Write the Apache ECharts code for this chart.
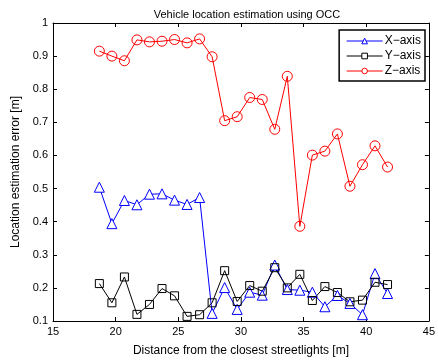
<!DOCTYPE html>
<html>
<head>
<meta charset="utf-8">
<script src="https://cdn.jsdelivr.net/npm/echarts@6/dist/echarts.min.js"></script>
<style>
  html, body { margin: 0; padding: 0; background: #fff; }
  #chart { width: 438px; height: 362px; }
</style>
</head>
<body>
<div id="chart"></div>
<script>
// distance from the closest streetlights [m]
const distances = [18.7, 19.7, 20.7, 21.7, 22.7, 23.7, 24.7, 25.7, 26.7, 27.7, 28.7, 29.7,
  30.7, 31.7, 32.7, 33.7, 34.7, 35.7, 36.7, 37.7, 38.7, 39.7, 40.7, 41.7]
const xAxisErr = [0.504, 0.394, 0.464, 0.451, 0.483, 0.484, 0.465, 0.452, 0.473, 0.123, 0.201, 0.135,
  0.187, 0.178, 0.269, 0.195, 0.193, 0.187, 0.143, 0.177, 0.153, 0.119, 0.243, 0.183]
const yAxisErr = [0.213, 0.155, 0.233, 0.12, 0.15, 0.198, 0.176, 0.114, 0.119, 0.155, 0.252, 0.159,
  0.207, 0.19, 0.261, 0.2, 0.241, 0.162, 0.204, 0.186, 0.158, 0.163, 0.217, 0.21]
const zAxisErr = [0.915, 0.9, 0.886, 0.949, 0.943, 0.945, 0.95, 0.94, 0.952, 0.898, 0.705, 0.717,
  0.775, 0.769, 0.679, 0.839, 0.386, 0.601, 0.613, 0.665, 0.507, 0.572, 0.629, 0.565]
const xTicks = [15, 20, 25, 30, 35, 40, 45]
const yTicks = [0.1, 0.2, 0.3, 0.4, 0.5, 0.6, 0.7, 0.8, 0.9, 1]

const pairs = (ys) => ys.map((v, i) => [distances[i], v])

const font = 'Liberation Sans, Arial, sans-serif'
const axisLine = { show: true, lineStyle: { color: '#000', width: 1 } }
const tick = { show: true, inside: true, length: 4, lineStyle: { color: '#000' } }
const label = { color: '#000', fontSize: 11, fontFamily: font }
const hollow = (c) => ({ color: '#fff', borderColor: c, borderWidth: 1 })

const chart = echarts.init(document.getElementById('chart'), null, { renderer: 'canvas' })
const option = {
  animation: false,
  backgroundColor: '#fff',
  title: {
    text: 'Vehicle location estimation using OCC',
    left: 242, top: 4, textAlign: 'center',
    textStyle: { fontSize: 11, fontWeight: 'normal', color: '#000', fontFamily: font },
  },
  legend: {
    right: 13, top: 30,
    orient: 'vertical',
    backgroundColor: '#fff',
    borderColor: '#000', borderWidth: 1.5, borderRadius: 0,
    padding: [5, 4, 4, 7],
    itemGap: 3,
    itemWidth: 36, itemHeight: 7,
    lineStyle: { width: 1 },
    textStyle: { fontSize: 12, color: '#000', fontFamily: font, padding: [0, 0, 0, -3] },
    data: [
      { name: 'X\u2212axis', itemStyle: hollow('#0000ff') },
      { name: 'Y\u2212axis', itemStyle: hollow('#000') },
      { name: 'Z\u2212axis', itemStyle: hollow('#ff0000') },
    ],
  },
  grid: { left: 53, right: 7, top: 23, bottom: 37 },
  xAxis: [
    {
      type: 'value', min: 15, max: 45, interval: 5,
      name: 'Distance from the closest streetlights [m]',
      nameLocation: 'middle', nameGap: 24,
      nameTextStyle: { fontSize: 12, color: '#000', fontFamily: font },
      axisLine, axisTick: tick, axisLabel: { ...label, margin: 5 },
      splitLine: { show: false },
    },
    {
      type: 'value', min: 15, max: 45, interval: 5, position: 'top',
      axisLine, axisTick: tick, axisLabel: { show: false }, splitLine: { show: false },
    },
  ],
  yAxis: [
    {
      type: 'value', min: 0.1, max: 1, interval: 0.1,
      name: 'Location estimation error [m]',
      nameLocation: 'middle', nameGap: 23,
      nameTextStyle: { fontSize: 12, color: '#000', fontFamily: font },
      axisLine, axisTick: tick,
      axisLabel: { ...label, margin: 5, formatter: (v) => String(+v.toFixed(1)) },
      splitLine: { show: false },
    },
    {
      type: 'value', min: 0.1, max: 1, interval: 0.1, position: 'right',
      axisLine, axisTick: tick, axisLabel: { show: false }, splitLine: { show: false },
    },
  ],
  series: [
    {
      name: 'X\u2212axis', type: 'line', data: pairs(xAxisErr),
      symbol: 'triangle', symbolSize: 10,
      itemStyle: hollow('#0000ff'),
      lineStyle: { color: '#0000ff', width: 1 },
    },
    {
      name: 'Y\u2212axis', type: 'line', data: pairs(yAxisErr),
      symbol: 'rect', symbolSize: 8,
      itemStyle: { ...hollow('#000'), color: 'rgba(255,255,255,0)' },
      lineStyle: { color: '#000', width: 1 },
    },
    {
      name: 'Z\u2212axis', type: 'line', data: pairs(zAxisErr),
      symbol: 'circle', symbolSize: 10,
      itemStyle: { ...hollow('#ff0000'), color: 'rgba(255,255,255,0)' },
      lineStyle: { color: '#ff0000', width: 1 },
    },
  ],
}
option && chart.setOption(option)
</script>
</body>
</html>
